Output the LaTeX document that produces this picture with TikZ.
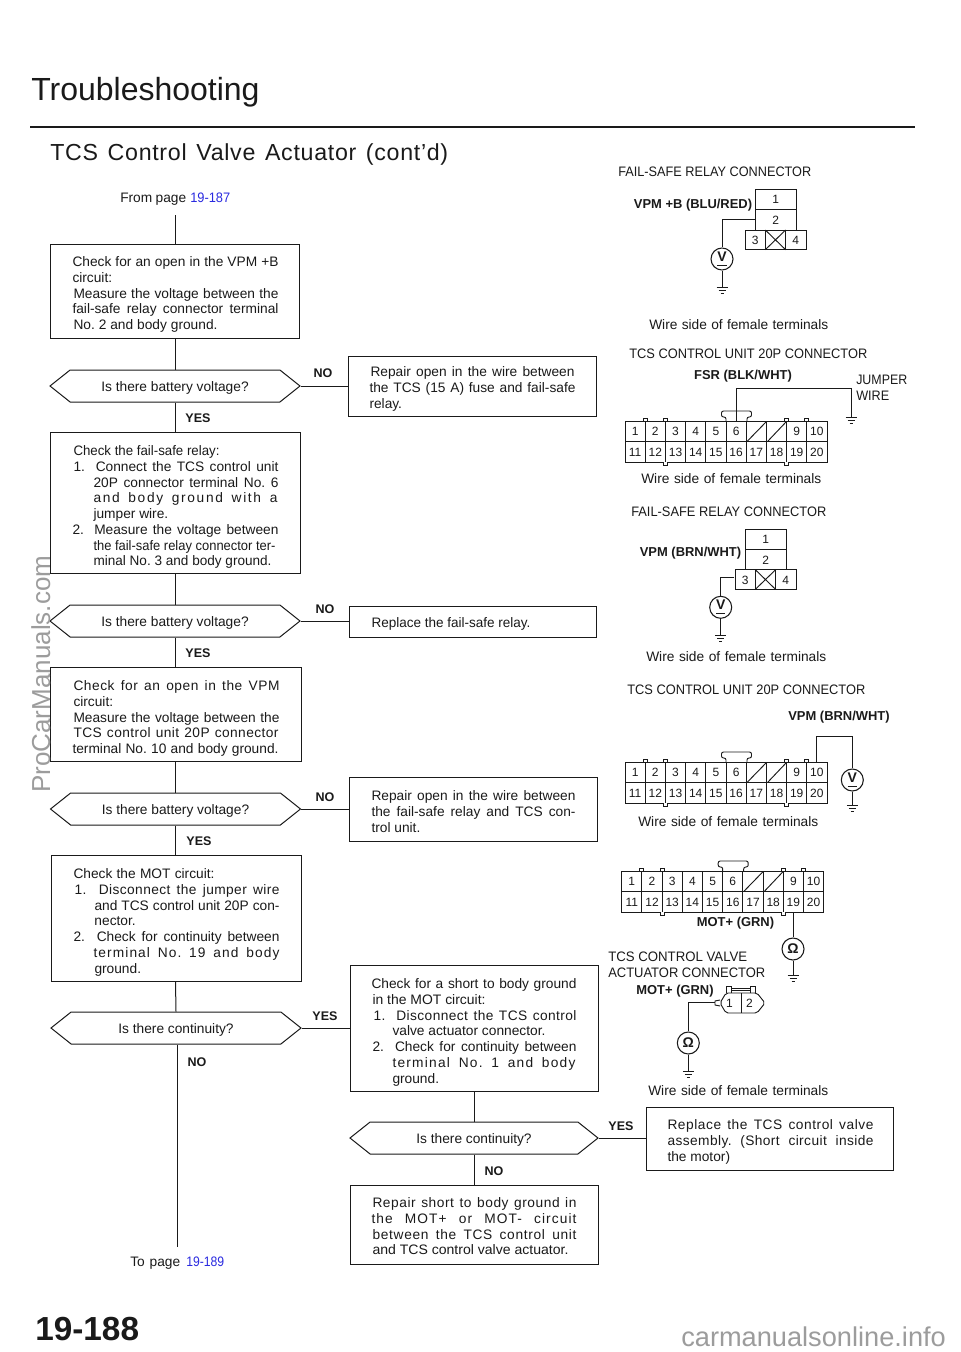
\documentclass[tikz,border=0pt]{standalone}
\usepackage{graphicx}
\usepackage{fontspec}
\setmainfont{Liberation Sans}
\usetikzlibrary{shapes.symbols,calc}
\newlength\pxu \setlength\pxu{0.75pt}
\definecolor{ink}{HTML}{1A1A1A}
\definecolor{lnk}{HTML}{2A2AE0}
\definecolor{wm}{HTML}{9C9C9C}
\newcommand\Sstrut{\rule[-4.7\pxu]{0pt}{15.75\pxu}}
\newcommand\Ln[3]{\leavevmode\hspace*{#1\pxu}\makebox[#2\pxu][s]{\Sstrut #3}\par}
\newcommand\Lt[4]{\leavevmode\hspace*{#1\pxu}{\addfontfeatures{LetterSpace=#3}\makebox[#2\pxu][s]{\Sstrut #4}}\par}
\newcommand\Lc[3]{\leavevmode\hspace*{#1\pxu}\Sstrut\resizebox{#2\pxu}{\height}{#3}\par}
\newcommand\Lx[2]{\leavevmode\hspace*{#1\pxu}\Sstrut #2\par}
\newcommand\Bx[4]{\parbox[c][#1\pxu][t]{#2\pxu}{\offinterlineskip\parskip=0pt\frenchspacing\vspace*{#3\pxu}#4}}
\newcommand\Sb[2]{\makebox[#1\pxu][s]{\frenchspacing #2}}
\newcommand\Rz[2]{\resizebox{#1\pxu}{\height}{#2}}
\newcommand\Vm{\underline{V\rule[-1.6pt]{0pt}{1pt}}}
\tikzset{
  x=0.75pt,y=-0.75pt,
  every node/.style={text=ink},
  bodyf/.style={font=\fontsize{10.3}{11.81}\selectfont},
  flowbox/.style={draw=ink,line width=0.75pt,inner sep=0pt,anchor=north west,bodyf},
  flowhex/.style={draw=ink,line width=0.75pt,signal,signal to=west and east,signal pointer angle=77,
     minimum width=250\pxu,minimum height=32\pxu,inner sep=0pt,text height=13\pxu,text depth=3\pxu,bodyf},
  conn/.style={draw=ink,line width=0.75pt},
  wire/.style={draw=ink,line width=0.7pt},
  lab/.style={inner sep=0pt,anchor=base west,bodyf},
  yn/.style={inner sep=0pt,font=\fontsize{9.4}{11}\selectfont\bfseries},
  pin/.style={inner sep=0pt,font=\fontsize{9}{10}\selectfont},
  wlab/.style={inner sep=0pt,font=\fontsize{9.7}{11}\selectfont\bfseries},
  meter/.style={draw=ink,line width=0.8pt,circle,minimum size=22\pxu,inner sep=0pt,font=\fontsize{10.5}{11}\selectfont\bfseries},
}
\newcommand\gnd[1]{%
  \draw[wire] ($(#1)+(-5.5,0)$) -- ($(#1)+(5.5,0)$);
  \draw[wire] ($(#1)+(-3.5,3)$) -- ($(#1)+(3.5,3)$);
  \draw[wire] ($(#1)+(-1.5,6)$) -- ($(#1)+(1.5,6)$);}
\newcommand\tpconn[3]{%
 \begin{scope}[shift={(#2,#3)},name prefix=#1-]
  \draw[wire] (0,0) rectangle (202,41);
  \draw[wire] (0,20.5) -- (202,20.5);
  \foreach \c in {1,...,9}{\draw[wire] ({\c*20.2},0) -- ({\c*20.2},41);}
  \foreach \c in {1,2,8,9}{\draw[wire,fill=white] ({\c*20.2-2},0) -- ({\c*20.2-2},-3) -- ({\c*20.2+2},-3) -- ({\c*20.2+2},0);}
  \foreach \c in {2,8}{\draw[wire,fill=white] ({\c*20.2-2},41) -- ({\c*20.2-2},44) -- ({\c*20.2+2},44) -- ({\c*20.2+2},41);}
  \draw[wire,rounded corners=2\pxu] (101,0) -- (101,-4) -- (96.5,-4) -- (96.5,-10) -- (126.5,-10) -- (126.5,-4) -- (122,-4) -- (122,0);
  \draw[wire] (122,20.5) -- (141,1);
  \draw[wire] (142.5,20.5) -- (161,1);
  \foreach \c in {1,...,6,9,10}{\node[pin] (t\c) at ({(\c-0.5)*20.2},10.5) {\c};}
  \foreach \c in {1,...,10}{\pgfmathtruncatemacro\nn{\c+10}\node[pin] (b\c) at ({(\c-0.5)*20.2},31) {\nn};}
 \end{scope}}
\newcommand\relayconn[3]{%
 \begin{scope}[shift={(#2,#3)},name prefix=#1-]
  \draw[wire] (0,40.7) rectangle (40.3,0);
  \draw[wire] (0,20.3) -- (40.3,20.3);
  \draw[wire] (-10.7,40.7) rectangle (50.3,60.4);
  \draw[wire] (9.6,40.7) -- (9.6,60.4) (29.9,40.7) -- (29.9,60.4);
  \draw[wire] (9.6,40.7) -- (29.9,60.4) (9.6,60.4) -- (29.9,40.7);
  \node[pin] (p1) at (20,10) {1};
  \node[pin] (p2) at (20,31) {2};
  \node[pin] (p3) at (-0.5,51) {3};
  \node[pin] (p4) at (40,51) {4};
 \end{scope}}
\begin{document}
\begin{tikzpicture}
\path[use as bounding box,fill=white] (0,0) rectangle (960,1352);
% headers
\node[inner sep=0pt,anchor=base west,font=\fontsize{24}{26}\selectfont] (title) at (31,101) {Troubleshooting};
\coordinate (ruleL) at (30,127); \coordinate (ruleR) at (915,127);
\draw[ink,line width=1.9pt] (ruleL) -- (ruleR);
\node[inner sep=0pt,anchor=base west,font=\fontsize{17.4}{20}\selectfont\addfontfeatures{LetterSpace=3}] (sub) at (50,161) {\Sb{398}{TCS Control Valve Actuator (cont'd)}};
\node[lab] (from) at (120,202) {\makebox[66\pxu][s]{From page}\hspace{4\pxu}\Rz{40}{\textcolor{lnk}{19-187}}};
\node[lab] (to) at (130,1266) {\makebox[50\pxu][s]{To page}\hspace{6\pxu}\Rz{38}{\textcolor{lnk}{19-189}}};
% left column
\coordinate (start) at (175,215);
\node[flowbox] (b1) at (50,244) {\Bx{94}{249}{11}{%
 \Ln{22}{206}{Check for an open in the VPM +B}
 \Lx{22}{circuit:}
 \Ln{23}{205}{Measure the voltage between the}
 \Ln{22}{206}{fail-safe relay connector terminal}
 \Ln{23}{144}{No. 2 and body ground.}}};
\node[flowhex] (d1) at (175,386) {Is there battery voltage?};
\node[flowbox] (b2) at (50,432) {\Bx{141}{250}{12}{%
 \Lc{23}{146}{Check the fail-safe relay:}
 \Ln{23}{205}{1.\ \ Connect the TCS control unit}
 \Ln{43}{185}{20P connector terminal No. 6}
 \Lt{43}{184}{12}{and body ground with a}
 \Lx{43}{jumper wire.}
 \Ln{22}{206}{2.\ \ Measure the voltage between}
 \Lc{43}{182}{the fail-safe relay connector ter-}
 \Lc{43}{178}{minal No. 3 and body ground.}}};
\node[flowhex] (d2) at (175,621) {Is there battery voltage?};
\node[flowbox] (b3) at (50,667) {\Bx{94}{251}{12}{%
 \Lt{23}{206}{4}{Check for an open in the VPM}
 \Lx{23}{circuit:}
 \Ln{23}{206}{Measure the voltage between the}
 \Lt{23}{205}{3}{TCS control unit 20P connector}
 \Ln{22}{206}{terminal No. 10 and body ground.}}};
\node[flowhex] (d3) at (175.5,809) {Is there battery voltage?};
\node[flowbox] (b4) at (51,855) {\Bx{126}{250}{12}{%
 \Ln{22}{141}{Check the MOT circuit:}
 \Lt{23}{205}{3}{1.\ \ Disconnect the jumper wire}
 \Ln{43}{185}{and TCS control unit 20P con-}
 \Lx{43}{nector.}
 \Ln{22}{206}{2.\ \ Check for continuity between}
 \Lt{42}{186}{8}{terminal No. 19 and body}
 \Lx{43}{ground.}}};
\node[flowhex] (d4) at (176,1028) {Is there continuity?};
\coordinate (endp) at (177,1247);
% middle column
\node[flowbox] (r1) at (348,356) {\Bx{60}{248}{9}{%
 \Ln{22}{204}{Repair open in the wire between}
 \Ln{21}{206}{the TCS (15 A) fuse and fail-safe}
 \Lx{21}{relay.}}};
\node[flowbox] (r2) at (349,606) {\Bx{31}{247}{10}{%
 \Lc{22}{159}{Replace the fail-safe relay.}}};
\node[flowbox] (r3) at (349,777) {\Bx{64}{248}{12}{%
 \Ln{22}{204}{Repair open in the wire between}
 \Ln{22}{204}{the fail-safe relay and TCS con-}
 \Lx{22}{trol unit.}}};
\node[flowbox] (r4) at (350,965) {\Bx{126}{248}{12}{%
 \Ln{21}{205}{Check for a short to body ground}
 \Lc{22}{113}{in the MOT circuit:}
 \Lt{23}{203}{3}{1.\ \ Disconnect the TCS control}
 \Lc{42}{153}{valve actuator connector.}
 \Ln{22}{204}{2.\ \ Check for continuity between}
 \Lt{42}{183}{9}{terminal No. 1 and body}
 \Lx{42}{ground.}}};
\node[flowhex,minimum width=248\pxu] (d5) at (474,1138) {Is there continuity?};
\node[flowbox] (r5) at (350,1185) {\Bx{79}{248}{11}{%
 \Lt{22}{204}{4}{Repair short to body ground in}
 \Lt{21}{205}{8}{the MOT+ or MOT- circuit}
 \Lt{22}{204}{5}{between the TCS control unit}
 \Lc{22}{196}{and TCS control valve actuator.}}};
\node[flowbox] (r6) at (646,1107) {\Bx{63}{247}{11}{%
 \Lt{21}{206}{4}{Replace the TCS control valve}
 \Lt{21}{206}{3}{assembly. (Short circuit inside}
 \Lx{21}{the motor)}}};
% connectors
\draw[conn] (start) -- (start |- b1.north);
\draw[conn] (b1.south -| start) -- (start |- d1.north);
\draw[conn] (start |- d1.south) -- (start |- b2.north);
\draw[conn] (start |- b2.south) -- (start |- d2.north);
\draw[conn] (start |- d2.south) -- (start |- b3.north);
\draw[conn] (start |- b3.south) -- (start |- d3.north);
\draw[conn] (d3.south) -- (d3.south |- b4.north);
\draw[conn] (d3.south |- b4.south) -- (d4.north);
\draw[conn] (d4.south -| endp) -- (endp);
\draw[conn] (d1.east) -- (r1.west |- d1.east);
\draw[conn] (d2.east) -- (r2.west |- d2.east);
\draw[conn] (d3.east) -- (r3.west |- d3.east);
\draw[conn] (d4.east) -- (r4.west |- d4.east);
\draw[conn] (r4.south -| d5.north) -- (d5.north);
\draw[conn] (d5.south) -- (d5.south |- r5.north);
\draw[conn] (d5.east) -- (r6.west |- d5.east);
% yes / no
\node[yn] (n1) at (323,373) {NO};
\node[yn] (y1) at (198,418) {YES};
\node[yn] (n2) at (325,609) {NO};
\node[yn] (y2) at (198,653) {YES};
\node[yn] (n3) at (325,797) {NO};
\node[yn] (y3) at (199,841) {YES};
\node[yn] (y4) at (325,1016) {YES};
\node[yn] (n4) at (197,1062) {NO};
\node[yn] (y5) at (621,1126) {YES};
\node[yn] (n5) at (494,1171) {NO};
% right column captions
\node[lab] (c1) at (618,176) {\Rz{193}{FAIL-SAFE RELAY CONNECTOR}};
\node[lab] (c2) at (649,329.5) {\Sb{179}{Wire side of female terminals}};
\node[lab] (c3) at (629,358) {\Rz{238}{TCS CONTROL UNIT 20P CONNECTOR}};
\node[lab] (c4) at (641,483.5) {\Sb{180}{Wire side of female terminals}};
\node[lab] (c5) at (631,516) {\Rz{195}{FAIL-SAFE RELAY CONNECTOR}};
\node[lab] (c6) at (646,661.5) {\Sb{180}{Wire side of female terminals}};
\node[lab] (c7) at (627,694) {\Rz{238}{TCS CONTROL UNIT 20P CONNECTOR}};
\node[lab] (c8) at (638,826.5) {\Sb{180}{Wire side of female terminals}};
\node[lab] (c9) at (648,1095.5) {\Sb{180}{Wire side of female terminals}};
\node[lab] (j1) at (856,384) {\Rz{51}{JUMPER}};
\node[lab] (j2) at (856,400) {\Rz{33}{WIRE}};
\node[lab] (c10) at (608,961) {\Rz{139}{TCS CONTROL VALVE}};
\node[lab] (c11) at (608,977) {\Rz{157}{ACTUATOR CONNECTOR}};
% first relay
\relayconn{ra}{755.7}{189.3}
\node[wlab] (la) at (693,205) {VPM +B (BLU/RED)};
\coordinate (wa) at (755.7,219);
\node[meter] (ma) at (722,259) {\Vm};
\coordinate (ga) at (722,287);
\draw[wire] (wa) -| (ma.north);
\draw[wire] (ma.south) -- (ga);
\gnd{ga}
% TCS 20P with jumper
\tpconn{ca}{625}{421}
\node[wlab] (lb) at (743,376.5) {FSR (BLK/WHT)};
\coordinate (wb) at (736,421); \coordinate (gb) at (851,417);
\draw[wire] (wb) |- (851,388) -- (gb);
\gnd{gb}
% second relay
\relayconn{rb}{745.7}{529}
\node[wlab] (lc) at (690.5,553) {VPM (BRN/WHT)};
\coordinate (wc) at (734.3,577.3);
\node[meter] (mc) at (720.7,607.3) {\Vm};
\coordinate (gc) at (720.7,635);
\draw[wire] (wc) -| (mc.north);
\draw[wire] (mc.south) -- (gc);
\gnd{gc}
% second 20P
\tpconn{cb}{625}{762}
\node[wlab] (ld) at (839,717.5) {VPM (BRN/WHT)};
\coordinate (wd) at (816,762);
\node[meter] (md) at (852.3,780) {\Vm};
\coordinate (gd) at (852.3,805);
\draw[wire] (wd) |- (852.3,736) -- (md.north);
\draw[wire] (md.south) -- (gd);
\gnd{gd}
% third 20P
\tpconn{cc}{621.7}{871}
\node[wlab] (le) at (735.5,923.5) {MOT+ (GRN)};
\coordinate (we) at (793,912);
\node[meter] (me) at (793,949) {Ω};
\coordinate (ge) at (793,975);
\draw[wire] (we) -- (me.north);
\draw[wire] (me.south) -- (ge);
\gnd{ge}
% actuator connector
\node[wlab] (lf) at (675,991) {MOT+ (GRN)};
\draw[wire,rounded corners=2\pxu] (720,1003) -- (726,993) -- (757,993) -- (765,1003) -- (757,1013) -- (726,1013) -- cycle;
\draw[wire] (720,1000) -- (715,1001) -- (715,1005) -- (720,1006);
\draw[wire] (741.5,993) -- (741.5,1013);
\draw[wire] (726,993) -- (726,986) -- (731,986) -- (731,993);
\draw[wire] (750,993) -- (750,986) -- (755,986) -- (755,993);
\draw[wire] (731,988) -- (750,988) (731,990.5) -- (750,990.5);
\node[pin] (a1) at (729.5,1003) {1};
\node[pin] (a2) at (749.5,1003) {2};
\coordinate (wf) at (715,1002.7);
\node[meter] (mf) at (688.3,1043) {Ω};
\coordinate (gf) at (688.3,1071.7);
\draw[wire] (wf) -| (mf.north);
\draw[wire] (mf.south) -- (gf);
\gnd{gf}
% footer and marks
\node[inner sep=0pt,anchor=base west,font=\fontsize{25}{28}\selectfont\bfseries] (page) at (35,1340) {19-188};
\node[inner sep=0pt,anchor=base west,rotate=90,font=\fontsize{19.5}{22}\selectfont,text=wm] (mark) at (50,793) {ProCarManuals.com};
\node[inner sep=0pt,anchor=base west,font=\fontsize{20.4}{22}\selectfont,text=wm] (foot) at (681,1346) {carmanualsonline.info};
\end{tikzpicture}
\end{document}
